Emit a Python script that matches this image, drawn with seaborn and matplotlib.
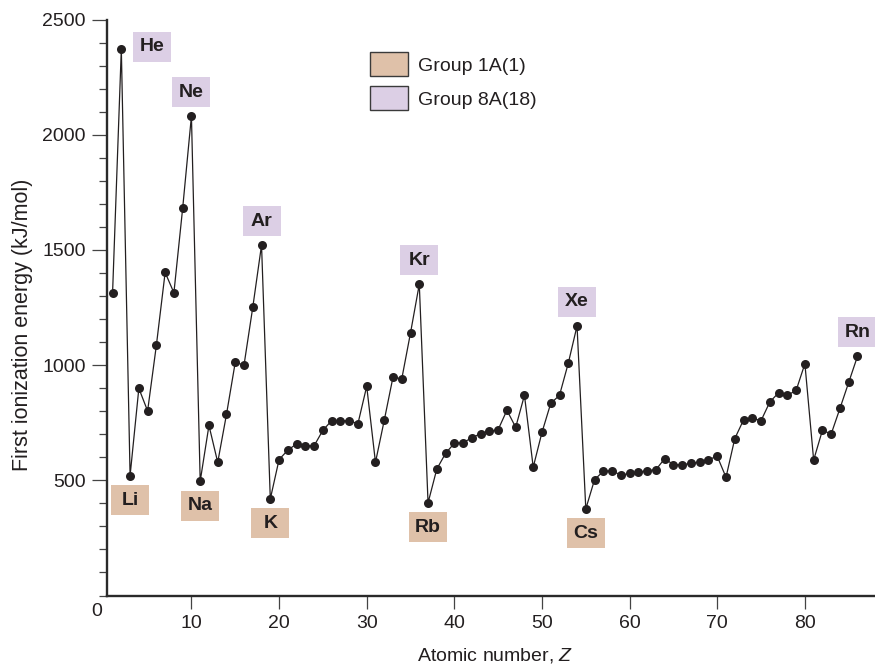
import matplotlib
matplotlib.use("Agg")
import matplotlib.pyplot as plt
import matplotlib.patches as mpatches
from matplotlib.transforms import ScaledTranslation
from matplotlib.ticker import MultipleLocator
import pandas as pd
import seaborn as sns

# ---------------- data ----------------
atomic_number = [1, 2, 3, 4, 5, 6, 7, 8, 9, 10,
                 11, 12, 13, 14, 15, 16, 17, 18, 19, 20,
                 21, 22, 23, 24, 25, 26, 27, 28, 29, 30,
                 31, 32, 33, 34, 35, 36, 37, 38, 39, 40,
                 41, 42, 43, 44, 45, 46, 47, 48, 49, 50,
                 51, 52, 53, 54, 55, 56, 57, 58, 59, 60,
                 61, 62, 63, 64, 65, 66, 67, 68, 69, 70,
                 71, 72, 73, 74, 75, 76, 77, 78, 79, 80,
                 81, 82, 83, 84, 85, 86]
ionization_energy = [1312, 2372, 520, 899, 801, 1086, 1402, 1314, 1681, 2081,
                     496, 738, 578, 786, 1012, 1000, 1251, 1521, 419, 590,
                     631, 658, 650, 650, 717, 759, 759, 758, 746, 908,
                     578, 760, 948, 940, 1140, 1351, 402, 549, 617, 661,
                     664, 684, 703, 712, 720, 804, 730, 869, 557, 708,
                     834, 869, 1008, 1170, 376, 503, 539, 542, 522, 530,
                     535, 542, 546, 594, 568, 568, 573, 580, 590, 604,
                     513, 681, 762, 769, 759, 840, 880, 869, 890, 1006,
                     588, 717, 701, 812, 925, 1038]

noble_symbols = ["He", "Ne", "Ar", "Kr", "Xe", "Rn"]
noble_z = [2, 10, 18, 36, 54, 86]
alkali_symbols = ["Li", "Na", "K", "Rb", "Cs"]
alkali_z = [3, 11, 19, 37, 55]
legend_labels = ["Group 1A(1)", "Group 8A(18)"]

x_ticks = [10, 20, 30, 40, 50, 60, 70, 80]
y_ticks = [500, 1000, 1500, 2000, 2500]

# ---------------- style ----------------
sns.set_style("ticks")
plt.rcParams["font.family"] = ["Liberation Sans", "DejaVu Sans"]
plt.rcParams["mathtext.fontset"] = "custom"
plt.rcParams["mathtext.it"] = "Liberation Sans:italic"
plt.rcParams["mathtext.rm"] = "Liberation Sans"

INK = "#231f20"
TAN = "#dfc1a9"
LAV = "#dccfe5"

fig = plt.figure(figsize=(8.75, 6.66), dpi=100)
ax = fig.add_axes([107.3 / 875, 70.5 / 666, 1 - 107.3 / 875, 576 / 666])

df = pd.DataFrame({"Z": atomic_number, "IE": ionization_energy})
sns.lineplot(data=df, x="Z", y="IE", ax=ax, color=INK, linewidth=0.9,
             marker="o", markersize=6.5, markeredgewidth=0, markerfacecolor=INK)

ax.set_xlim(0.4, 88.0)
ax.set_ylim(0, 2500)
ax.set_xticks(x_ticks)
ax.set_yticks(y_ticks)
ax.yaxis.set_minor_locator(MultipleLocator(100))

for s in ["top", "right"]:
    ax.spines[s].set_visible(False)
for s in ["left", "bottom"]:
    ax.spines[s].set_linewidth(1.7)
    ax.spines[s].set_color("#2a2a2a")

ax.tick_params(axis="x", which="major", length=9.5, width=0.9, color="#444444",
               labelsize=14, labelcolor=INK, pad=4.5)
ax.tick_params(axis="y", which="major", length=11, width=0.9, color="#444444",
               labelsize=14, labelcolor=INK, pad=4.5)
ax.tick_params(axis="y", which="minor", length=5.5, width=0.9, color="#444444")

ax.set_xlabel("Atomic number, $Z$", fontsize=14, color=INK, va="top")
ax.xaxis.set_label_coords(0.505, -0.0877)
ax.set_ylabel("First ionization energy (kJ/mol)", fontsize=15.5, color=INK,
              va="center")
ax.yaxis.set_label_coords(-0.111, 0.47)

ax.annotate("0", xy=(0, 0), xycoords="axes fraction", xytext=(-10.6, -16.2),
            textcoords="offset pixels", ha="center", va="center",
            fontsize=14, color=INK)

# ---------------- element labels ----------------
BW, BH = 0.38, 0.30  # box size in inches (38 x 30 px)


def label_box(sym, z, dx, dy, face):
    y = ionization_energy[atomic_number.index(z)]
    tr = fig.dpi_scale_trans + ScaledTranslation(z, y, ax.transData)
    rect = mpatches.Rectangle((dx - BW / 2, dy - BH / 2), BW, BH, transform=tr,
                              facecolor=face, edgecolor="none", zorder=1,
                              clip_on=False)
    ax.add_patch(rect)
    ax.text(dx, dy, sym, transform=tr, ha="center", va="center",
            fontsize=14, fontweight="bold", color=INK, zorder=2)


for sym, z in zip(noble_symbols, noble_z):
    if sym == "He":
        label_box(sym, z, 0.31, 0.02, LAV)
    else:
        label_box(sym, z, 0.0, 0.24, LAV)

for sym, z in zip(alkali_symbols, alkali_z):
    label_box(sym, z, 0.0, -0.245, TAN)

# ---------------- legend ----------------
handles = [mpatches.Patch(facecolor=TAN, edgecolor="#3a3a3a", linewidth=1.0),
           mpatches.Patch(facecolor=LAV, edgecolor="#3a3a3a", linewidth=1.0)]
leg = ax.legend(handles, legend_labels, loc="upper left",
                bbox_to_anchor=(370 / 875, 1 - 52 / 666),
                bbox_transform=fig.transFigure, frameon=False, fontsize=14,
                borderpad=0, borderaxespad=0, handlelength=1.95,
                handleheight=1.54, handletextpad=0.5, labelspacing=0.51)
for t in leg.get_texts():
    t.set_color(INK)

fig.savefig("out.png", dpi=100)
